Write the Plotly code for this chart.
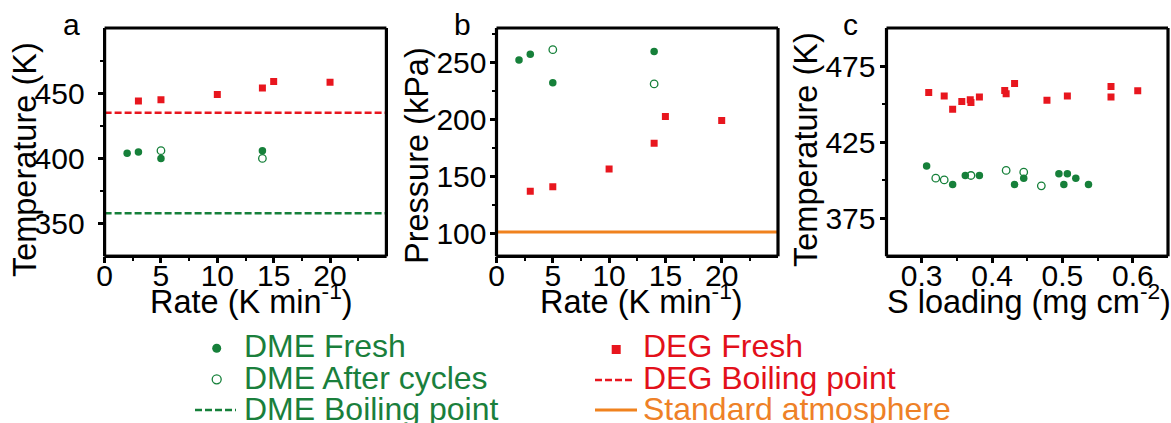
import plotly.graph_objects as go

# ---------------- data ----------------
RATE_A_DME_FRESH = [2, 3, 5, 14]
TEMP_A_DME_FRESH = [404, 405, 400, 406]
RATE_A_DME_AFTER = [5, 14]
TEMP_A_DME_AFTER = [406, 400]
RATE_A_DEG_FRESH = [3, 5, 10, 14, 15, 20]
TEMP_A_DEG_FRESH = [444, 445, 449, 454, 459, 458.5]
DME_BOILING_K = 358
DEG_BOILING_K = 435

RATE_B_DME_FRESH = [2, 3, 5, 14]
PRES_B_DME_FRESH = [252, 257, 232, 259.5]
RATE_B_DME_AFTER = [5, 14]
PRES_B_DME_AFTER = [261, 231]
RATE_B_DEG_FRESH = [3, 5, 10, 14, 15, 20]
PRES_B_DEG_FRESH = [137, 141, 156.5, 179, 202.5, 199]
STANDARD_ATM_KPA = 101.3

LOAD_C_DEG_FRESH = [0.310, 0.332, 0.344, 0.357, 0.369, 0.370, 0.382, 0.418, 0.420,
                    0.432, 0.478, 0.507, 0.569, 0.569, 0.607]
TEMP_C_DEG_FRESH = [457.6, 455.4, 446.6, 451.7, 452.8, 451.0, 454.6, 459.0, 456.8,
                    463.6, 452.6, 455.4, 461.6, 454.6, 458.7]
LOAD_C_DME_FRESH = [0.307, 0.344, 0.362, 0.382, 0.432, 0.445, 0.495, 0.502, 0.507,
                    0.519, 0.537]
TEMP_C_DME_FRESH = [409.3, 397.2, 403.1, 403.1, 397.2, 401.3, 404.2, 397.2, 404.2,
                    401.3, 397.2]
LOAD_C_DME_AFTER = [0.320, 0.332, 0.370, 0.420, 0.445, 0.470]
TEMP_C_DME_AFTER = [401.3, 400.2, 403.1, 406.4, 405.3, 396.3]

# tick values / labels
RATE_TICKS = [0, 5, 10, 15, 20]
RATE_MINOR = [2.5, 7.5, 12.5, 17.5, 22.5]
TEMP_A_TICKS = [350, 400, 450]
TEMP_A_MINOR = [375, 425, 475]
PRES_TICKS = [100, 150, 200, 250]
PRES_MINOR = [125, 175, 225, 275]
LOAD_TICKS = [0.3, 0.4, 0.5, 0.6]
LOAD_TICK_TEXT = ["0.3", "0.4", "0.5", "0.6"]
LOAD_MINOR = [0.35, 0.45, 0.55]
TEMP_C_TICKS = [375, 425, 475]
TEMP_C_MINOR = [400, 450]

LEGEND_LEFT = ["DME Fresh", "DME After cycles", "DME Boiling point"]
LEGEND_RIGHT = ["DEG Fresh", "DEG Boiling point", "Standard atmosphere"]

# ---------------- style ----------------
W, H = 1171, 423
FONT = "Liberation Sans"
GREEN = "#16803a"
RED = "#e8161e"
ORANGE = "#f0821e"
GREEN_T = "#1a7f3c"
RED_T = "#e3101a"
ORANGE_T = "#ee8127"
DASH = "7px,3px"


def px(xp):
    return xp / W


def py(yp):
    return 1 - yp / H


fig = go.Figure()

fresh_m = dict(symbol="circle", size=7.5, color=GREEN)
after_m = dict(symbol="circle-open", size=7.5, color=GREEN, line=dict(width=1.3, color=GREEN))
deg_m = dict(symbol="square", size=7, color=RED)

fig.add_trace(go.Scatter(x=RATE_A_DME_FRESH, y=TEMP_A_DME_FRESH, mode="markers", marker=fresh_m,
                         name="DME Fresh", xaxis="x", yaxis="y"))
fig.add_trace(go.Scatter(x=RATE_A_DME_AFTER, y=TEMP_A_DME_AFTER, mode="markers", marker=after_m,
                         name="DME After cycles", xaxis="x", yaxis="y"))
fig.add_trace(go.Scatter(x=RATE_A_DEG_FRESH, y=TEMP_A_DEG_FRESH, mode="markers", marker=deg_m,
                         name="DEG Fresh", xaxis="x", yaxis="y"))
fig.add_trace(go.Scatter(x=RATE_B_DME_FRESH, y=PRES_B_DME_FRESH, mode="markers", marker=fresh_m,
                         name="DME Fresh", xaxis="x2", yaxis="y2"))
fig.add_trace(go.Scatter(x=RATE_B_DME_AFTER, y=PRES_B_DME_AFTER, mode="markers", marker=after_m,
                         name="DME After cycles", xaxis="x2", yaxis="y2"))
fig.add_trace(go.Scatter(x=RATE_B_DEG_FRESH, y=PRES_B_DEG_FRESH, mode="markers", marker=deg_m,
                         name="DEG Fresh", xaxis="x2", yaxis="y2"))
fig.add_trace(go.Scatter(x=LOAD_C_DEG_FRESH, y=TEMP_C_DEG_FRESH, mode="markers", marker=deg_m,
                         name="DEG Fresh", xaxis="x3", yaxis="y3"))
fig.add_trace(go.Scatter(x=LOAD_C_DME_FRESH, y=TEMP_C_DME_FRESH, mode="markers", marker=fresh_m,
                         name="DME Fresh", xaxis="x3", yaxis="y3"))
fig.add_trace(go.Scatter(x=LOAD_C_DME_AFTER, y=TEMP_C_DME_AFTER, mode="markers", marker=after_m,
                         name="DME After cycles", xaxis="x3", yaxis="y3"))

# reference lines
fig.add_shape(type="line", xref="x domain", x0=0, x1=1, yref="y", y0=DEG_BOILING_K, y1=DEG_BOILING_K,
              line=dict(color=RED, width=2.5, dash=DASH), layer="below")
fig.add_shape(type="line", xref="x domain", x0=0, x1=1, yref="y", y0=DME_BOILING_K, y1=DME_BOILING_K,
              line=dict(color=GREEN, width=2.5, dash=DASH), layer="below")
fig.add_shape(type="line", xref="x2 domain", x0=0, x1=1, yref="y2", y0=STANDARD_ATM_KPA,
              y1=STANDARD_ATM_KPA, line=dict(color=ORANGE, width=3), layer="below")

ytop, ybot = 28, 256.3
ydom = [py(ybot), py(ytop)]
XDOMS = [[px(104.6), px(386.4)], [px(496.5), px(778)], [px(886.5), px(1168)]]

# panel frames: four separate edges each
for xr, yr in [("x", "y"), ("x2", "y2"), ("x3", "y3")]:
    edges = [(0, 0, 1, 0), (0, 1, 1, 1), (0, 0, 0, 1), (1, 0, 1, 1)]
    for x0, y0, x1, y1 in edges:
        fig.add_shape(type="line", xref=xr + " domain", yref=yr + " domain",
                      x0=x0, y0=y0, x1=x1, y1=y1,
                      line=dict(color="black", width=3.2), layer="above")
# extra bottom edges in paper coordinates
for d in XDOMS:
    fig.add_shape(type="line", xref="paper", yref="paper", x0=d[0], x1=d[1],
                  y0=ydom[0], y1=ydom[0], line=dict(color="black", width=3.2), layer="above")


def axis(**kw):
    d = dict(showline=False, ticks="outside", ticklen=6, tickwidth=2.5, tickcolor="black",
             showgrid=False, zeroline=False, tickmode="array",
             tickfont=dict(size=30, color="black", family=FONT))
    d.update(kw)
    return d


def minor(vals):
    return dict(tickmode="array", tickvals=vals, ticks="outside", ticklen=3.5, tickwidth=2,
                tickcolor="black", showgrid=False)


XSO = -13

fig.update_layout(
    width=W, height=H, margin=dict(l=0, r=0, t=0, b=0, autoexpand=False),
    paper_bgcolor="white", plot_bgcolor="white", showlegend=False,
    font=dict(family=FONT, size=30, color="black"),
    xaxis=axis(domain=XDOMS[0], range=[0, 25], tickvals=RATE_TICKS,
               minor=minor(RATE_MINOR), anchor="y", ticklabelstandoff=XSO),
    yaxis=axis(domain=ydom, range=[325, 500], tickvals=TEMP_A_TICKS,
               minor=minor(TEMP_A_MINOR), anchor="x", ticklabelstandoff=7),
    xaxis2=axis(domain=XDOMS[1], range=[0, 25], tickvals=RATE_TICKS,
                minor=minor(RATE_MINOR), anchor="y2", ticklabelstandoff=XSO),
    yaxis2=axis(domain=ydom, range=[80, 280], tickvals=PRES_TICKS,
                minor=minor(PRES_MINOR), anchor="x2", ticklabelstandoff=-3),
    xaxis3=axis(domain=XDOMS[2], range=[0.25, 0.65], tickvals=LOAD_TICKS,
                ticktext=LOAD_TICK_TEXT, minor=minor(LOAD_MINOR), anchor="y3",
                ticklabelstandoff=XSO),
    yaxis3=axis(domain=ydom, range=[350, 500], tickvals=TEMP_C_TICKS,
                minor=minor(TEMP_C_MINOR), anchor="x3", ticklabelstandoff=-2),
)

# axis titles and panel letters
titles = [
    ("Temperature (K)", 24.6, 159.5, -90),
    ("Pressure (kPa)", 417, 156, -90),
    ("Temperature (K)", 806, 150, -90),
    ("Rate (K min<sup>-1</sup>)", 251, 299, 0),
    ("Rate (K min<sup>-1</sup>)", 641.5, 299, 0),
    ("S loading (mg cm<sup>-2</sup>)", 1028.5, 299, 0),
]
for txt, xp, yp, ang in titles:
    fig.add_annotation(text=txt, x=px(xp), y=py(yp), xref="paper", yref="paper",
                       xanchor="center", yanchor="middle", textangle=ang, showarrow=False,
                       font=dict(size=32.5, color="black", family=FONT))

for txt, xp in [("a", 71.5), ("b", 462.5), ("c", 850.5)]:
    fig.add_annotation(text=txt, x=px(xp), y=py(24.5), xref="paper", yref="paper",
                       xanchor="center", yanchor="middle", showarrow=False,
                       font=dict(size=30, color="black", family=FONT))

# manual two-column legend
rows_y = [346, 377.5, 409]
for txt, yp in zip(LEGEND_LEFT, rows_y):
    fig.add_annotation(text=txt, x=px(242), y=py(yp), xref="paper", yref="paper",
                       xanchor="left", yanchor="middle", showarrow=False,
                       font=dict(size=32, color=GREEN_T, family=FONT))
for txt, yp, col in zip(LEGEND_RIGHT, rows_y, [RED_T, RED_T, ORANGE_T]):
    fig.add_annotation(text=txt, x=px(641), y=py(yp), xref="paper", yref="paper",
                       xanchor="left", yanchor="middle", showarrow=False,
                       font=dict(size=32, color=col, family=FONT))

r = 4.5
fig.add_shape(type="circle", xref="paper", yref="paper", x0=px(216.7 - r), x1=px(216.7 + r),
              y0=py(348.3 + r), y1=py(348.3 - r), fillcolor=GREEN, line=dict(color=GREEN, width=0))
fig.add_shape(type="circle", xref="paper", yref="paper", x0=px(216.7 - r), x1=px(216.7 + r),
              y0=py(379.3 + r), y1=py(379.3 - r), fillcolor="white", line=dict(color=GREEN, width=1.3))
fig.add_shape(type="line", xref="paper", yref="paper", x0=px(195), x1=px(236),
              y0=py(410), y1=py(410), line=dict(color=GREEN, width=2.5, dash=DASH))
fig.add_shape(type="rect", xref="paper", yref="paper", x0=px(611.7), x1=px(620.7),
              y0=py(354), y1=py(345), fillcolor=RED, line=dict(color=RED, width=0))
fig.add_shape(type="line", xref="paper", yref="paper", x0=px(595), x1=px(634),
              y0=py(380), y1=py(380), line=dict(color=RED, width=2.5, dash=DASH))
fig.add_shape(type="line", xref="paper", yref="paper", x0=px(595), x1=px(637),
              y0=py(410), y1=py(410), line=dict(color=ORANGE, width=3))

fig.write_html("out.html")
